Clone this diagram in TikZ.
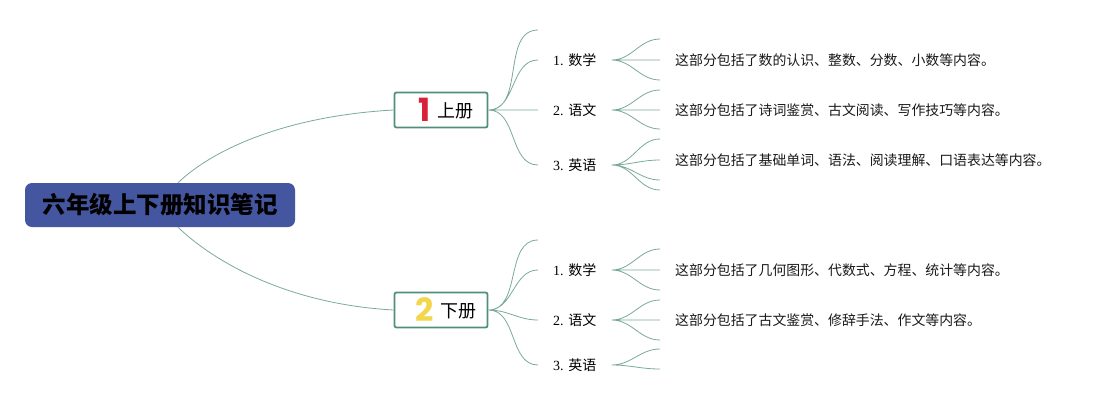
\documentclass[tikz,border=0pt]{standalone}
\usepackage{fontspec}
\setmainfont{Liberation Serif}
\newfontfamily\cjk{Noto Sans CJK SC}
\newfontfamily\numfont{Poppins}
\usetikzlibrary{positioning,calc}
\definecolor{rootblue}{HTML}{4556A0}
\definecolor{framegreen}{HTML}{4F8F7C}
\definecolor{linkgreen}{HTML}{7AAA96}
\definecolor{onered}{HTML}{D9213A}
\definecolor{twoyellow}{HTML}{F2D64B}
\tikzset{%
  % Specifications for style of nodes:
            root/.style  = {rectangle, rounded corners=7pt, fill=rootblue,
                            minimum width=270pt, minimum height=44pt,
                            font=\cjk\bfseries\fontsize{23.5}{24}\selectfont},
            part/.style  = {rectangle, rounded corners=2pt, draw=framegreen,
                            line width=1.8pt, fill=white, minimum width=93pt,
                            minimum height=35pt, inner sep=0pt,
                            font=\cjk\fontsize{18}{18}\selectfont},
            topic/.style = {anchor=west, inner xsep=15pt, inner ysep=2pt,
                            font=\fontsize{14}{15}\selectfont},
            note/.style  = {anchor=west, inner xsep=15pt, inner ysep=2pt,
                            text=black!90, font=\cjk\fontsize{13.9}{15}\selectfont},
            link/.style  = {draw=linkgreen, line width=0.8pt},
            fan/.style   = {out=0, in=180}
                           }

\begin{document}
\begin{tikzpicture}[x=1pt, y=-1pt]
    \useasboundingbox (0,0) rectangle (1113,405);

    \node (root)  [root] at (160,205) {六年级上下册知识笔记};
    \node (upper) [part] at (441,110) {\hspace{10pt}{\numfont\bfseries\fontsize{32}{32}\selectfont\color{onered}1}\hspace{7pt}\raisebox{4pt}{上册}};
    \node (lower) [part] at (441,310) {\hspace{10pt}{\numfont\bfseries\fontsize{32}{32}\selectfont\color{twoyellow}2}\hspace{7pt}\raisebox{4pt}{下册}};

    % first level
    \node (upmath)  [topic] at (538,60)  {1. {\cjk 数学}};
    \node (upchin)  [topic] at (538,110) {2. {\cjk 语文}};
    \node (upeng)   [topic] at (538,165) {3. {\cjk 英语}};
    \node (lowmath) [topic] at (538,270) {1. {\cjk 数学}};
    \node (lowchin) [topic] at (538,320) {2. {\cjk 语文}};
    \node (loweng)  [topic] at (538,365) {3. {\cjk 英语}};

    % notes
    \node (upmathnote)  [note] at (660,60)  {这部分包括了数的认识、整数、分数、小数等内容。};
    \node (upchinnote)  [note] at (660,110) {这部分包括了诗词鉴赏、古文阅读、写作技巧等内容。};
    \node (upengnote)   [note] at (660,160) {这部分包括了基础单词、语法、阅读理解、口语表达等内容。};
    \node (lowmathnote) [note] at (660,270) {这部分包括了几何图形、代数式、方程、统计等内容。};
    \node (lowchinnote) [note] at (660,320) {这部分包括了古文鉴赏、修辞手法、作文等内容。};

    % free ends
    \coordinate (upfree)     at (538,30);
    \coordinate (lowfree)    at (538,240);
    \coordinate (upmatha)    at (660,39);
    \coordinate (upmathb)    at (660,80);
    \coordinate (upchina)    at (660,90);
    \coordinate (upchinb)    at (660,129);
    \coordinate (upenga)     at (660,139);
    \coordinate (upengb)     at (660,180);
    \coordinate (upengc)     at (660,190);
    \coordinate (lowmatha)   at (660,249);
    \coordinate (lowmathb)   at (660,290);
    \coordinate (lowchina)   at (660,300);
    \coordinate (lowchinb)   at (660,340);
    \coordinate (lowenga)    at (660,349);
    \coordinate (lowengb)    at (660,369);
    \coordinate (rootup)     at ([xshift=18pt]root.north);
    \coordinate (rootdown)   at ([xshift=18pt]root.south);

    \draw[link] (rootup)   .. controls (212,150) and (285,116) .. (upper.west);
    \draw[link] (rootdown) .. controls (212,260) and (285,304) .. (lower.west);

    \draw[link] (upper.east) to[fan] (upfree)
                (upper.east) to[fan] (upmath)
                (upper.east) to[fan] (upchin)
                (upper.east) to[fan] (upeng);
    \draw[link] (lower.east) to[fan] (lowfree)
                (lower.east) to[fan] (lowmath)
                (lower.east) to[fan] (lowchin)
                (lower.east) to[fan] (loweng);

    \draw[link] (upmath.east)  to[fan] (upmatha)
                (upmath.east)  to[fan] (upmathnote)
                (upmath.east)  to[fan] (upmathb);
    \draw[link] (upchin.east)  to[fan] (upchina)
                (upchin.east)  to[fan] (upchinnote)
                (upchin.east)  to[fan] (upchinb);
    \draw[link] (upeng.east)   to[fan] (upenga)
                (upeng.east)   to[fan] (upengnote)
                (upeng.east)   to[fan] (upengb)
                (upeng.east)   to[fan] (upengc);
    \draw[link] (lowmath.east) to[fan] (lowmatha)
                (lowmath.east) to[fan] (lowmathnote)
                (lowmath.east) to[fan] (lowmathb);
    \draw[link] (lowchin.east) to[fan] (lowchina)
                (lowchin.east) to[fan] (lowchinnote)
                (lowchin.east) to[fan] (lowchinb);
    \draw[link] (loweng.east)  to[fan] (lowenga)
                (loweng.east)  to[fan] (lowengb);
\end{tikzpicture}
\end{document}
